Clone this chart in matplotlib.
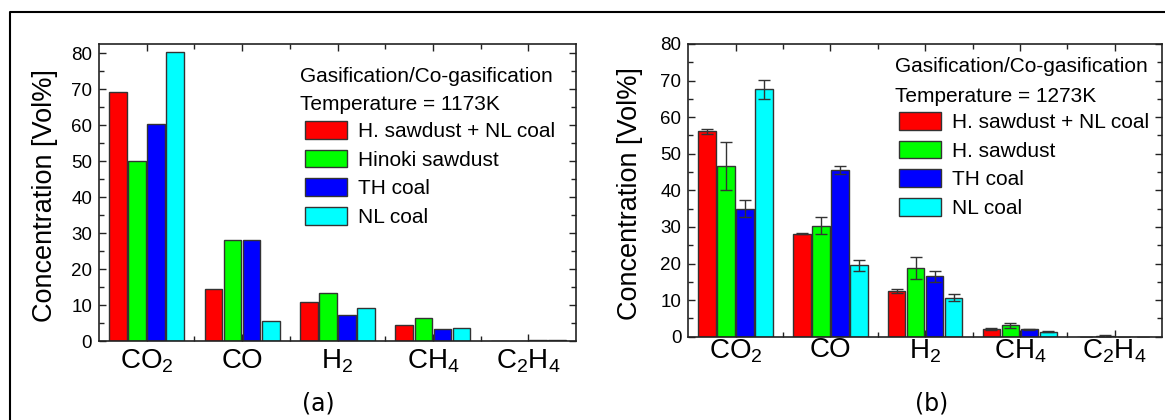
import numpy as np
import matplotlib
matplotlib.use("Agg")
import matplotlib.pyplot as plt
from matplotlib.lines import Line2D
from matplotlib.ticker import MultipleLocator, FixedLocator

plt.rcParams['font.family'] = ['Liberation Sans', 'DejaVu Sans']
plt.rcParams['mathtext.fontset'] = 'custom'
plt.rcParams['mathtext.rm'] = 'Liberation Sans'
plt.rcParams['mathtext.default'] = 'regular'

# gas species on the x axis
gases = [r'CO$_2$', 'CO', r'H$_2$', r'CH$_4$', r'C$_2$H$_4$']
colors = ['#ff0000', '#00ff00', '#0000ff', '#00ffff']

# (a) 1173 K
labels_a = ['H. sawdust + NL coal', 'Hinoki sawdust', 'TH coal', 'NL coal']
blend_a = [69.3, 14.5, 10.9, 4.4, 0.05]
hinoki_a = [49.9, 28.1, 13.4, 6.5, 0.05]
th_a = [60.2, 28.1, 7.1, 3.2, 0.3]
nl_a = [80.2, 5.6, 9.3, 3.7, 0.3]

# (b) 1273 K, with error bars
labels_b = ['H. sawdust + NL coal', 'H. sawdust', 'TH coal', 'NL coal']
blend_b = [56.1, 28.2, 12.5, 2.1, 0.0]
hinoki_b = [46.6, 30.3, 18.8, 3.1, 0.1]
th_b = [35.0, 45.6, 16.5, 2.0, 0.0]
nl_b = [67.6, 19.5, 10.7, 1.4, 0.0]
blend_err = [0.7, 0.1, 0.6, 0.2, 0.0]
hinoki_err = [6.5, 2.3, 3.1, 0.6, 0.3]
th_err = [2.4, 1.0, 1.5, 0.2, 0.0]
nl_err = [2.5, 1.5, 1.0, 0.2, 0.0]

W, H = 1165, 420
fig = plt.figure(figsize=(W / 100, H / 100), dpi=100)


def px(x, y):
    # pixel position (from top-left) -> figure fraction
    return x / W, 1 - y / H


def setup_axes(ax, ytop, pad_x):
    ax.set_xlim(0.5, 5.5)
    ax.set_ylim(0, ytop)
    ax.xaxis.set_major_locator(FixedLocator(np.arange(1, 6)))
    ax.xaxis.set_minor_locator(FixedLocator(np.arange(1.5, 5.5, 1)))
    ax.set_xticklabels(gases)
    ax.yaxis.set_major_locator(MultipleLocator(10))
    ax.yaxis.set_minor_locator(MultipleLocator(5))
    ax.tick_params(which='both', direction='in', top=True, right=True, width=1, color='#222222')
    ax.tick_params(which='major', length=5)
    ax.tick_params(which='minor', length=3.5)
    ax.tick_params(axis='y', labelsize=13.5, pad=5)
    ax.tick_params(axis='x', labelsize=20, pad=pad_x)
    for s in ax.spines.values():
        s.set_linewidth(1.2)
        s.set_color('#222222')


def draw_bars(ax, series, labels, errs=None):
    x = np.arange(1, 6)
    offsets = [-0.3, -0.1, 0.1, 0.3]
    for i, vals in enumerate(series):
        ax.bar(x + offsets[i], vals, width=0.185, color=colors[i],
               edgecolor='#333333', linewidth=1, label=labels[i], zorder=2)
        if errs is not None:
            ax.errorbar(x + offsets[i], vals, yerr=errs[i], fmt='none',
                        ecolor='#333333', elinewidth=1, capsize=4, capthick=1, zorder=3)


def add_legend(ax, x, y):
    ax.legend(loc='upper left', bbox_to_anchor=px(x, y), bbox_transform=fig.transFigure,
              frameon=False, fontsize=15, borderpad=0, borderaxespad=0,
              handlelength=2.0, handleheight=0.92, handletextpad=0.55, labelspacing=0.42)


# panel (a)
l, b = px(99, 341)
axa = fig.add_axes([l, b, 477 / W, 297 / H])
draw_bars(axa, [blend_a, hinoki_a, th_a, nl_a], labels_a)
setup_axes(axa, 82.5, 5)
axa.set_ylabel('Concentration [Vol%]', fontsize=19.5)
axa.yaxis.set_label_coords(-0.087, 0.49)
fig.text(*px(300, 77), 'Gasification/Co-gasification', fontsize=15, va='center')
fig.text(*px(300, 104), 'Temperature = 1173K', fontsize=15, va='center')
add_legend(axa, 305, 121)

# panel (b)
l, b = px(688.3, 336.7)
axb = fig.add_axes([l, b, 473.7 / W, 292.7 / H])
draw_bars(axb, [blend_b, hinoki_b, th_b, nl_b], labels_b,
          errs=[blend_err, hinoki_err, th_err, nl_err])
setup_axes(axb, 80, 0.5)
axb.set_ylabel('Concentration [Vol%]', fontsize=19.5)
axb.yaxis.set_label_coords(-0.096, 0.49)
fig.text(*px(895, 67), 'Gasification/Co-gasification', fontsize=15, va='center')
fig.text(*px(895, 96), 'Temperature = 1273K', fontsize=15, va='center')
add_legend(axb, 899, 112)

# panel captions
fig.text(*px(318, 404), '(a)', fontsize=17, family='DejaVu Sans', ha='center', va='center')
fig.text(*px(932, 404), '(b)', fontsize=17, family='DejaVu Sans', ha='center', va='center')

# outer frame (left and top edges visible)
x0, y0 = px(9.5, 12.3)
fig.add_artist(Line2D([x0, x0, 1.0], [0.0, y0, y0], transform=fig.transFigure,
                      color='black', linewidth=1.5))

fig.savefig('out.png', dpi=100)
